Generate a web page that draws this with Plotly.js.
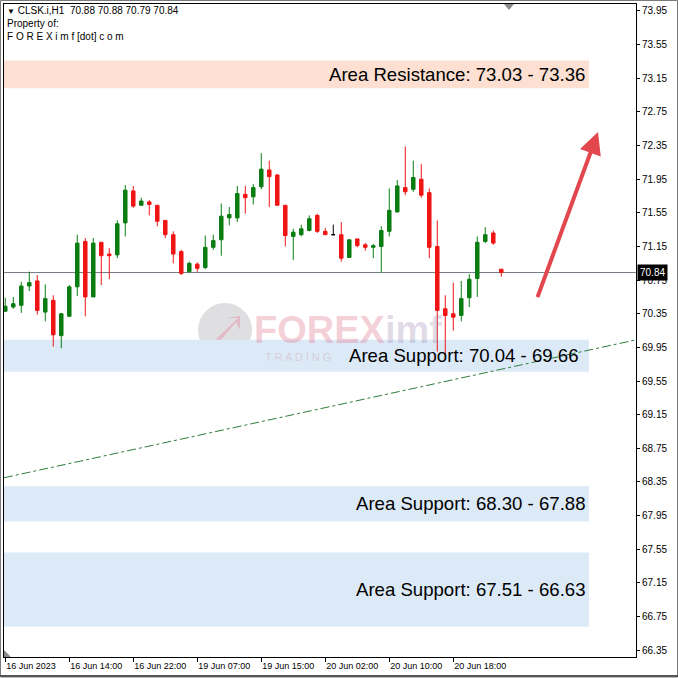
<!DOCTYPE html>
<html>
<head>
<meta charset="utf-8">
<script src="https://cdn.plot.ly/plotly-3.0.1.min.js"></script>
<style>
  html, body { margin: 0; padding: 0; background: #ffffff; }
  #chart { width: 678px; height: 678px; }
</style>
</head>
<body>
<div id="chart"></div>
<script>
// CLSK.i, H1 candles (bar index 0 = 16 Jun 2023 06:00)
const opens  = [70.38,70.43,70.45,70.68,70.74,70.37,70.51,70.09,70.32,70.67,
                71.21,70.55,71.20,71.06,71.05,71.43,71.81,71.64,71.68,71.64,
                71.46,71.29,71.09,70.85,70.94,70.90,71.14,71.23,71.49,71.49,
                71.77,71.74,71.86,72.06,72.00,71.64,71.27,71.29,71.34,71.52,
                71.33,71.29,71.29,71.02,71.24,71.17,71.14,71.15,71.33,71.56,
                71.85,71.83,71.95,71.79,71.15,70.41,70.35,70.33,70.54,70.77,
                71.21,71.31,70.88];
const highs  = [70.54,70.55,70.73,70.85,70.81,70.70,70.57,70.36,70.69,71.29,
                71.25,71.25,71.20,71.13,71.46,71.88,71.87,71.73,71.70,71.64,
                71.46,71.33,71.11,70.97,70.96,71.28,71.29,71.66,71.62,71.87,
                71.87,71.89,72.26,72.17,72.01,71.64,71.36,71.41,71.52,71.54,
                71.37,71.41,71.44,71.23,71.24,71.19,71.18,71.39,71.84,71.94,
                72.34,72.17,72.13,71.84,71.46,70.57,70.72,70.74,70.82,71.27,
                71.38,71.34,70.88];
const lows   = [70.37,70.41,70.36,70.62,70.34,70.26,69.96,69.94,70.31,70.56,
                70.32,70.55,70.69,70.76,71.01,71.27,71.61,71.64,71.52,71.39,
                71.25,70.95,70.81,70.84,70.85,70.88,71.11,71.04,71.40,71.44,
                71.54,71.65,71.83,71.62,71.64,71.15,70.99,71.27,71.33,71.31,
                71.29,71.29,70.97,71.02,71.14,71.10,71.01,70.84,71.27,71.56,
                71.76,71.80,71.73,71.01,69.90,69.85,70.15,70.26,70.43,70.55,
                71.19,71.17,70.79];
const closes = [70.44,70.47,70.68,70.72,70.39,70.53,70.10,70.35,70.67,71.19,
                70.55,71.19,71.04,71.04,71.42,71.82,71.63,71.69,71.65,71.45,
                71.29,71.06,70.83,70.95,70.89,71.14,71.22,71.51,71.53,71.78,
                71.73,71.85,72.07,71.98,71.64,71.28,71.32,71.36,71.48,71.33,
                71.29,71.29,71.01,71.23,71.16,71.14,71.16,71.34,71.58,71.87,
                71.80,71.97,71.76,71.14,70.39,70.33,70.31,70.53,70.76,71.20,
                71.29,71.19,70.84];

// time axis labels
const tickIdx  = [0, 8, 16, 24, 32, 40, 48, 56];
const tickText = ["16 Jun 2023", "16 Jun 14:00", "16 Jun 22:00", "19 Jun 07:00",
                  "19 Jun 15:00", "20 Jun 02:00", "20 Jun 10:00", "20 Jun 18:00"];

// price zones: [label, first bound, second bound]
const zoneNames  = ["Area Resistance", "Area Support", "Area Support", "Area Support"];
const zoneFirst  = [73.03, 70.04, 68.30, 67.51];
const zoneSecond = [73.36, 69.66, 67.88, 66.63];
const zoneKinds  = ["res", "sup", "sup", "sup"];

// rising dash-dot trend line (bar index, price)
const trendBars   = [-0.16, 78.84];
const trendPrices = [68.40, 70.04];

// projected move arrow (bar index, price): start, end
const arrowBars   = [66.46, 74.09];
const arrowPrices = [70.53, 72.51];

const symbol = "CLSK.i,H1";
const yTicks = [];
for (let v = 66.35; v <= 73.96; v += 0.4) yTicks.push(+v.toFixed(2));

// ---- split bars into regular and doji candles ----
const idx = opens.map((_, i) => i);
const regular = idx.filter(i => opens[i] !== closes[i]);
const doji    = idx.filter(i => opens[i] === closes[i]);
const pick = (arr, sel) => sel.map(i => arr[i]);

const UP = "#0a7d12", DOWN = "#f01414";

const traces = [
  {
    type: "candlestick",
    x: regular, open: pick(opens, regular), high: pick(highs, regular),
    low: pick(lows, regular), close: pick(closes, regular),
    increasing: { line: { color: UP, width: 1 }, fillcolor: UP },
    decreasing: { line: { color: DOWN, width: 1 }, fillcolor: DOWN },
    whiskerwidth: 0, hoverinfo: "skip", showlegend: false
  },
  {
    type: "candlestick",
    x: doji, open: pick(opens, doji), high: pick(highs, doji),
    low: pick(lows, doji), close: pick(closes, doji),
    increasing: { line: { color: "#000000", width: 1 }, fillcolor: "#000000" },
    decreasing: { line: { color: "#000000", width: 1 }, fillcolor: "#000000" },
    whiskerwidth: 0, hoverinfo: "skip", showlegend: false
  }
];

// ---- plot geometry (pixels) ----
const W = 678, H = 678, ML = 4, MR = 42, MT = 4, MB = 21;
const PW = W - ML - MR, PH = H - MT - MB;
const px = x => (x - ML) / PW;
const py = y => (H - MB - y) / PH;

const last = closes.length - 1;
const lastClose = closes[last];
const bandRight = 72.95;
const FONT = "Liberation Sans, Arial, sans-serif";

const shapes = [];
const annotations = [];

zoneNames.forEach((name, k) => {
  const top = Math.max(zoneFirst[k], zoneSecond[k]);
  const bot = Math.min(zoneFirst[k], zoneSecond[k]);
  shapes.push({
    type: "rect", xref: "x", yref: "y", layer: "below",
    x0: -2, x1: bandRight, y0: bot, y1: top,
    fillcolor: zoneKinds[k] === "res" ? "#fde0d1" : "#dce9f7",
    line: { width: 0 }
  });
  annotations.push({
    xref: "x", yref: "y", x: bandRight - 0.2, y: (top + bot) / 2,
    xanchor: "right", yanchor: "middle", showarrow: false,
    xshift: k === 1 ? -7 : 0,
    text: name + ": " + zoneFirst[k].toFixed(2) + " - " + zoneSecond[k].toFixed(2),
    font: { family: FONT, size: 18.6, color: "#000000" }
  });
});

// watermark logo disc
shapes.push({
  type: "circle", xref: "paper", yref: "paper", layer: "below",
  x0: px(198), x1: px(252), y0: py(357), y1: py(303),
  fillcolor: "rgba(150,150,160,0.3)", line: { width: 0 }
});
shapes.push({
  type: "path", xref: "paper", yref: "paper", layer: "below",
  path: `M ${px(210)} ${py(345)} L ${px(238)} ${py(318)} L ${px(226)} ${py(318)} L ${px(240)} ${py(316)} L ${px(240)} ${py(330)} L ${px(236)} ${py(322)} L ${px(214)} ${py(348)} Z`,
  fillcolor: "rgba(230,110,140,0.32)", line: { width: 0 }
});

// current price line
shapes.push({
  type: "line", xref: "paper", yref: "y", x0: 0, x1: 1, y0: lastClose, y1: lastClose,
  line: { color: "#737985", width: 1 }, layer: "below"
});

// trend line
shapes.push({
  type: "line", xref: "x", yref: "y",
  x0: trendBars[0], y0: trendPrices[0], x1: trendBars[1], y1: trendPrices[1],
  line: { color: "#2f7d3a", width: 1, dash: "dashdot" }
});

// chart shift marker and scale marker
shapes.push({
  type: "path", xref: "paper", yref: "paper",
  path: `M ${px(504)} ${py(4)} L ${px(514)} ${py(4)} L ${px(509)} ${py(10)} Z`,
  fillcolor: "#8c8c8c", line: { width: 0 }
});
shapes.push({
  type: "path", xref: "paper", yref: "paper",
  path: `M ${px(4)} ${py(657)} L ${px(4)} ${py(650)} L ${px(11)} ${py(657)} Z`,
  fillcolor: "#8c8c8c", line: { width: 0 }
});

// window frame
shapes.push({
  type: "rect", xref: "paper", yref: "paper",
  x0: px(0.5), x1: px(677.5), y0: py(677), y1: py(0.5),
  line: { color: "#7a7a7a", width: 1 }
});
shapes.push({
  type: "line", xref: "paper", yref: "paper",
  x0: px(0), x1: px(678), y0: py(676), y1: py(676),
  line: { color: "#555555", width: 2 }
});

// arrow
annotations.push({
  xref: "x", yref: "y", axref: "x", ayref: "y",
  x: arrowBars[1], y: arrowPrices[1], ax: arrowBars[0], ay: arrowPrices[0],
  showarrow: true, arrowhead: 2, arrowsize: 1.1, arrowwidth: 4,
  arrowcolor: "#e2474d", text: ""
});

// header
const nb = "\u00a0";
annotations.push({
  xref: "paper", yref: "paper", x: px(5), y: py(3), xanchor: "left", yanchor: "top",
  align: "left", showarrow: false,
  text: "<span style='font-size:8px'>▼</span>" + nb + symbol + nb + nb +
        [opens[last], highs[last], lows[last], closes[last]].map(v => v.toFixed(2)).join(nb) +
        "<br>Property of:<br>F O R E X i m f [dot] c o m",
  font: { family: FONT, size: 10, color: "#000000" }
});

// last price tag
annotations.push({
  xref: "paper", yref: "y", x: 1, y: lastClose, xanchor: "left", yanchor: "middle",
  xshift: 1, showarrow: false, text: lastClose.toFixed(2),
  bgcolor: "#000000", borderpad: 2,
  font: { family: FONT, size: 10, color: "#ffffff" }
});

// watermark text
annotations.push({
  xref: "paper", yref: "paper", x: px(252), y: py(330), xanchor: "left", yanchor: "middle",
  showarrow: false, height: 30,
  text: "<b><span style='color:rgba(225,120,145,0.34)'>FOREX</span><span style='color:rgba(150,130,175,0.28)'>imf</span></b>",
  font: { family: FONT, size: 38 }
});
annotations.push({
  xref: "paper", yref: "paper", x: px(263), y: py(357), xanchor: "left", yanchor: "middle",
  showarrow: false, height: 10, text: "T R A D I N G",
  font: { family: FONT, size: 11, color: "rgba(200,140,160,0.33)" }
});

const layout = {
  width: W, height: H,
  margin: { l: ML, r: MR, t: MT, b: MB, pad: 0 },
  paper_bgcolor: "#ffffff", plot_bgcolor: "#ffffff",
  showlegend: false, boxgap: 0.38,
  xaxis: {
    range: [-0.16, 78.84], rangeslider: { visible: false },
    tickmode: "array", tickvals: tickIdx, ticktext: tickText,
    ticks: "outside", ticklen: 4, tickcolor: "#000000", tickwidth: 1,
    ticklabelposition: "outside right",
    showgrid: false, zeroline: false,
    showline: true, mirror: true, linecolor: "#000000", linewidth: 1,
    tickfont: { family: FONT, size: 9, color: "#000000" }
  },
  yaxis: {
    side: "right", range: [66.269, 74.033],
    tickmode: "array", tickvals: yTicks, ticktext: yTicks.map(v => v.toFixed(2)),
    ticks: "outside", ticklen: 3, tickcolor: "#000000", tickwidth: 1,
    showgrid: false, zeroline: false,
    showline: true, mirror: true, linecolor: "#000000", linewidth: 1,
    tickfont: { family: FONT, size: 10, color: "#000000" }
  },
  shapes: shapes,
  annotations: annotations
};

Plotly.newPlot("chart", traces, layout, { staticPlot: true, displayModeBar: false });
</script>
</body>
</html>
